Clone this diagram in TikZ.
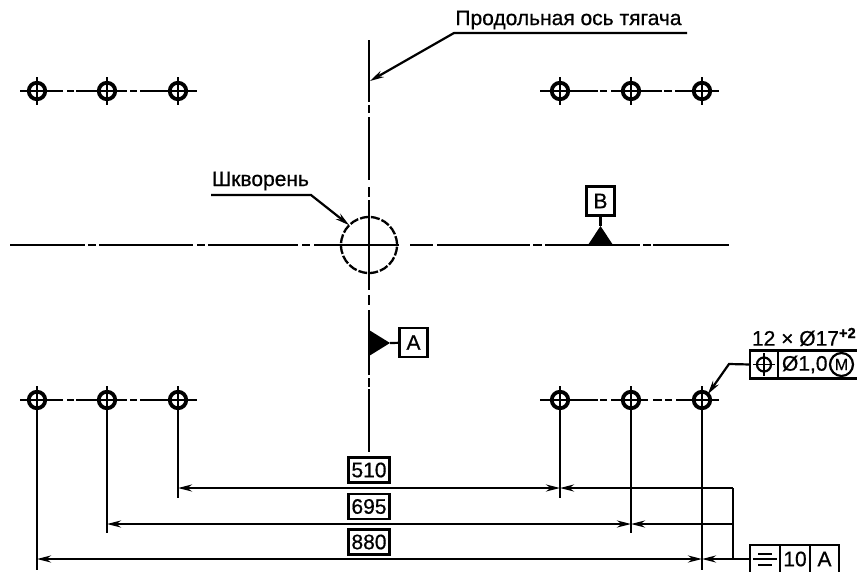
\documentclass[tikz,border=0pt]{standalone}
\usepackage{fontspec}
\setmainfont[RawFeature={embolden=0.6}]{Liberation Sans}
\usetikzlibrary{arrows.meta}
\tikzset{
  hole/.style={circle,draw,line width=3.8pt,minimum size=16.5pt},
  cell/.style={draw,minimum height=28pt},
  dimbox/.style={draw,line width=2.5pt,minimum width=41pt,minimum height=25pt},
  datum/.style={draw,minimum width=28pt,minimum height=29pt},
}
\begin{document}
\begin{tikzpicture}[x=1pt,y=-1pt,line width=2.2pt,inner sep=0pt,outer sep=0pt,
  >={Stealth[length=14pt,width=7pt]},
  every node/.style={font=\fontsize{21}{24}\selectfont}]
\useasboundingbox (0,0) rectangle (857,571);
% centre lines
\foreach \a/\b in {10/85,88/96,99/193,197/205,208/298,302/310,314/399,410/433,437/530,533/542,545/640,643/651,653/729}
  \draw (\a,245) -- (\b,245);
\foreach \a/\b in {40/102,105/113,117/180,187/197,200/290,295/305,310/375,378/387,389/452}
  \draw (369,\a) -- (369,\b);
\foreach \y in {91,400} {
  \foreach \a/\b in {20/63,67/74,76/127,130/137,140/197,540/598,600/607,611/642}
    \draw (\a,\y) -- (\b,\y);
}
\foreach \a/\b in {642/662,664/672,675/719}
  \draw (\a,91) -- (\b,91);
\foreach \a/\b in {653/662,665/672,676/719}
  \draw (\a,400) -- (\b,400);
% holes
\foreach \n/\x/\y in {T1/37/91,T2/107/91,T3/178/91,T4/560/91,T5/631/91,T6/702/91,
  B1/37/400,B2/107/400,B3/178/400,B4/560/400,B5/631/400,B6/702/400} {
  \node[hole] (\n) at (\x,\y) {};
  \draw[line width=1.6pt] (\x,\y-14) -- (\x,\y+14);
  \draw[line width=1.6pt] (\x-17,\y) -- (\x+17,\y);
}
% kingpin
\node[circle,draw,dashed,dash pattern=on 9pt off 2pt,line width=2.3pt,minimum size=56pt] (KP) at (369,245) {};
\node (KT) at (260.5,181) {Шкворень};
\coordinate (K0) at (211,195);
\coordinate (K1) at (311,195);
\draw[->] (K0) -- (K1) -- (KP.135);
% axis
\node (AT) at (568.5,20) {Продольная ось тягача};
\coordinate (A0) at (687,33);
\coordinate (A1) at (454,33);
\coordinate (AX) at (370,81);
\draw[->] (A0) -- (A1) -- (AX);
% datums
\node[datum] (DB) at (600.5,201) {B};
\coordinate (TB) at (600.5,226);
\fill (TB) -- (588,245) -- (613,245) -- cycle;
\path (DB) edge[draw] (TB);
\node[datum] (DA) at (413.5,342.5) {A};
\coordinate (TA) at (390,343);
\fill (TA) -- (369,330) -- (369,356) -- cycle;
\path (DA) edge[draw] (TA);
% extension lines
\foreach \n/\y in {B1/570,B2/533,B3/498,B4/498,B5/533,B6/570} {
  \coordinate (E\n) at (\n |- 0,\y);
  \path (\n) edge[draw] (E\n);
}
\coordinate (D1) at (733,488);
\coordinate (D2) at (733,524);
\coordinate (D3) at (733,559);
\coordinate (L1) at (178,488);
\coordinate (L2) at (107,524);
\coordinate (L3) at (37,559);
\coordinate (R1) at (560,488);
\coordinate (R2) at (631,524);
\coordinate (R3) at (702,559);
\path[<->] (L1) edge (R1);
\path[<->] (L2) edge (R2);
\path[<->] (L3) edge (R3);
\path[->] (D1) edge (R1);
\path[->] (D2) edge (R2);
\path[->] (D3) edge (R3);
\node[dimbox] (V1) at (369,470) {510};
\node[dimbox] (V2) at (369,506.5) {695};
\node[dimbox] (V3) at (369,542) {880};
% feature frames
\node[anchor=west] (NT) at (752,337) {12 × Ø17\textsuperscript{\bfseries +2}};
\node[cell,minimum width=28pt] (F1) at (764,364.5) {};
\node[cell,anchor=west,minimum width=84pt] (F2) at (F1.east) {};
\node[anchor=west] (F2T) at (782,364.5) {Ø1,0};
\node[circle,draw,minimum size=23pt,font=\fontsize{16}{18}\selectfont] (FM) at (841.5,364.5) {M};
\node[circle,draw,minimum size=14pt] (FS) at (764,364.5) {};
\draw[line width=1.9pt] (764,353) -- (764,376);
\draw[line width=1.9pt] (753,364.5) -- (775,364.5);
\coordinate (FK) at (729,364);
\draw[->] (F1.west) -- (FK) -- (B6.45);
\node[cell,minimum width=30pt,anchor=north west,minimum height=40pt] (G1) at (750,545) {};
\node[cell,minimum width=30pt,anchor=north west,minimum height=40pt] (G2) at (G1.north east) {};
\node[cell,minimum width=29pt,anchor=north west,minimum height=40pt] (G3) at (G2.north east) {};
\node (G2T) at (795,559) {10};
\node (G3T) at (824.5,559) {A};
\draw[line width=2.4pt] (758,554) -- (772,554);
\draw[line width=2.4pt] (753,559) -- (777,559);
\draw[line width=2.4pt] (758,565) -- (772,565);
\draw (D1) -- (D3) -- (G1.west |- D3);
\end{tikzpicture}
\end{document}
